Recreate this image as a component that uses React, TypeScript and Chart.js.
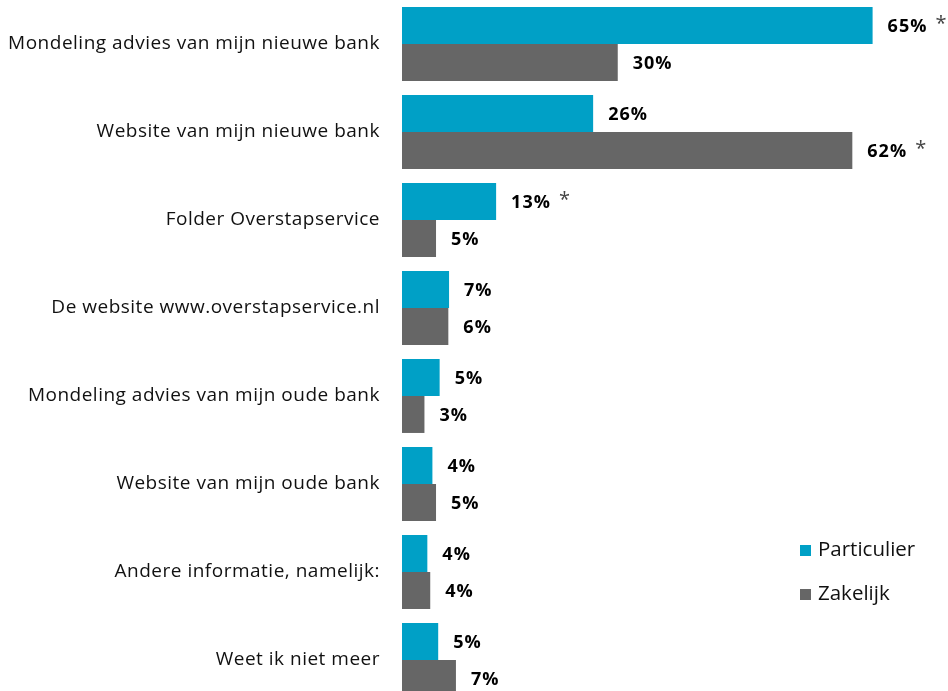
import React, { useEffect, useRef } from "react";
import { Chart, registerables } from "chart.js";

Chart.register(...registerables);

const categories = [
  "Mondeling advies van mijn nieuwe bank",
  "Website van mijn nieuwe bank",
  "Folder Overstapservice",
  "De website www.overstapservice.nl",
  "Mondeling advies van mijn oude bank",
  "Website van mijn oude bank",
  "Andere informatie, namelijk:",
  "Weet ik niet meer",
];

const particulier = [65.0, 26.4, 13.0, 6.5, 5.2, 4.2, 3.5, 5.0];
const zakelijk = [29.8, 62.2, 4.7, 6.4, 3.1, 4.7, 3.9, 7.45];

const particulierStar = [true, false, true, false, false, false, false, false];
const zakelijkStar = [false, true, false, false, false, false, false, false];

const seriesNames = ["Particulier", "Zakelijk"];
const colors = ["#00A0C6", "#666666"];

const FONT = "'Open Sans', sans-serif";

const spacingPlugin = {
  id: "spacing",
  beforeDraw(chart: any) {
    (chart.ctx as any).letterSpacing = "0.5px";
  },
};

const labelPlugin = {
  id: "valueLabels",
  afterDatasetsDraw(chart: any) {
    const ctx = chart.ctx;
    const stars = [particulierStar, zakelijkStar];
    chart.data.datasets.forEach((ds: any, di: number) => {
      const meta = chart.getDatasetMeta(di);
      meta.data.forEach((bar: any, i: number) => {
        const v = ds.data[i];
        const txt = Math.round(v) + "%";
        ctx.save();
        ctx.font = "bold 18px " + FONT;
        (ctx as any).letterSpacing = "1px";
        ctx.fillStyle = "#000000";
        ctx.textAlign = "left";
        ctx.textBaseline = "middle";
        const x = bar.x + 15;
        ctx.fillText(txt, x, bar.y + 1);
        if (stars[di][i]) {
          const w = ctx.measureText(txt).width;
          ctx.font = "20px " + FONT;
          (ctx as any).letterSpacing = "0px";
          ctx.fillStyle = "#444444";
          ctx.fillText("*", x + w + 8, bar.y - 1);
        }
        ctx.restore();
      });
    });
  },
};

export default function App() {
  const ref = useRef<HTMLCanvasElement | null>(null);

  useEffect(() => {
    if (!ref.current) return;
    const chart = new Chart(ref.current, {
      type: "bar",
      data: {
        labels: categories,
        datasets: [
          {
            label: seriesNames[0],
            data: particulier,
            backgroundColor: colors[0],
            categoryPercentage: 0.84,
            barPercentage: 1.0,
          },
          {
            label: seriesNames[1],
            data: zakelijk,
            backgroundColor: colors[1],
            categoryPercentage: 0.84,
            barPercentage: 1.0,
          },
        ],
      },
      options: {
        indexAxis: "y",
        animation: false,
        responsive: false,
        maintainAspectRatio: false,
        layout: { padding: { top: 0, bottom: 0, left: 0, right: 3 } },
        plugins: {
          legend: { display: false },
          tooltip: { enabled: false },
          title: { display: false },
        },
        scales: {
          x: {
            display: false,
            min: 0,
            max: 75,
          },
          y: {
            grid: { display: false, drawTicks: false },
            border: { display: false },
            ticks: {
              padding: 22,
              color: "#111111",
              font: { family: FONT, size: 19 },
            },
            afterFit(scale: any) {
              scale.width = 402;
              scale.paddingTop = 0;
              scale.paddingBottom = 0;
            },
          },
        },
      },
      plugins: [spacingPlugin, labelPlugin],
    });
    return () => chart.destroy();
  }, []);

  const legendItem = (name: string, color: string, top: number) => (
    <div
      style={{
        position: "absolute",
        left: 800,
        top,
        display: "flex",
        alignItems: "center",
        fontFamily: FONT,
        fontSize: 20.5,
        color: "#111111",
        lineHeight: "24px",
      }}
    >
      <span
        style={{
          display: "inline-block",
          width: 11,
          height: 11,
          background: color,
          marginRight: 7,
          marginTop: 4,
        }}
      />
      <span>{name}</span>
    </div>
  );

  return (
    <div
      style={{
        position: "fixed",
        left: 0,
        top: 0,
        width: 948,
        height: 691,
        overflow: "hidden",
        background: "#ffffff",
      }}
    >
      <canvas
        ref={ref}
        width={948}
        height={704}
        style={{ display: "block", width: 948, height: 704 }}
      />
      {legendItem(seriesNames[0], colors[0], 536)}
      {legendItem(seriesNames[1], colors[1], 580)}
    </div>
  );
}
